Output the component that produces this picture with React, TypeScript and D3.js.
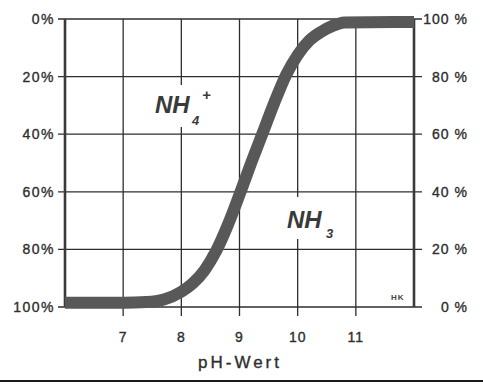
import React from "react";
import * as d3 from "d3";

const phTicks = [7, 8, 9, 10, 11];
const leftTicks = [0, 20, 40, 60, 80, 100];
const leftLabels = ["0%", "20%", "40%", "60%", "80%", "100%"];
const rightLabels = ["100 %", "80 %", "60 %", "40 %", "20 %", "0 %"];
const curvePh = [6.0, 7.0, 7.4, 7.7, 8.0, 8.2, 8.4, 8.6, 8.8, 9.0, 9.2, 9.4, 9.6, 9.8, 10.0, 10.2, 10.4, 10.6, 10.8, 12.0];
const curveNh3 = [1.5, 1.5, 1.7, 2.6, 5.3, 8.3, 12.8, 19.5, 28.5, 39, 50, 60.5, 71, 80.5, 87.5, 92.5, 95.5, 97.6, 98.8, 99];

const W = 483;
const H = 386;
const FONT = "'Liberation Sans', Arial, Helvetica, sans-serif";

export default function App() {
  const x = d3.scaleLinear().domain([6, 12]).range([65, 414]);
  const yLeft = d3.scaleLinear().domain([0, 100]).range([19, 307]);
  const yRight = d3.scaleLinear().domain([0, 100]).range([307, 19]);
  const pts: [number, number][] = curvePh.map((p, i) => [p, curveNh3[i]]);
  const line = d3
    .line<[number, number]>()
    .x((d) => x(d[0]))
    .y((d) => yRight(d[1]))
    .curve(d3.curveMonotoneX);
  const gridColor = "#2e2e2e";
  const textColor = "#2e2e2e";
  const textStroke = { stroke: textColor, strokeWidth: 0.35 };
  return (
    <svg
      width={W}
      height={H}
      style={{ position: "absolute", left: 0, top: 0, background: "#fff" }}
      fontFamily={FONT}
    >
      <rect x={0} y={0} width={W} height={H} fill="#fff" />
      {leftTicks.map((t) => (
        <line key={"h" + t} x1={58} x2={422} y1={yLeft(t)} y2={yLeft(t)} stroke={gridColor} strokeWidth={1.3} />
      ))}
      {phTicks.map((p) => (
        <line key={"v" + p} x1={x(p)} x2={x(p)} y1={yLeft(0)} y2={316} stroke={gridColor} strokeWidth={1.3} />
      ))}
      <line x1={x(6)} x2={x(6)} y1={yLeft(0)} y2={yLeft(100)} stroke="#3a3a3a" strokeWidth={2.6} />
      <line x1={x(12)} x2={x(12)} y1={yLeft(0)} y2={yLeft(100)} stroke="#3a3a3a" strokeWidth={2.6} />
      <rect x={148} y={85} width={68} height={42} fill="#fff" />
      <rect x={280} y={197} width={62} height={42} fill="#fff" />
      <path d={line(pts) || ""} fill="none" stroke="#585858" strokeWidth={12} />
      <g fill="#3a3a3a" fontWeight="bold" fontStyle="italic">
        <text x={155} y={113} fontSize={24}>NH</text>
        <text x={192} y={125} fontSize={13}>4</text>
        <text x={202} y={100} fontSize={15}>+</text>
        <text x={287} y={228} fontSize={24}>NH</text>
        <text x={326} y={238} fontSize={13}>3</text>
      </g>
      <text x={391} y={300} fontSize={8} fill="#444" fontWeight="bold" letterSpacing={1}>HK</text>
      {leftTicks.map((t, i) => (
        <text key={"l" + t} x={55} y={yLeft(t)} dy="0.36em" textAnchor="end" fontSize={14} fill={textColor} {...textStroke} letterSpacing={1.5}>
          {leftLabels[i]}
        </text>
      ))}
      {leftTicks.map((t, i) => (
        <text key={"r" + t} x={468} y={yLeft(t)} dy="0.36em" textAnchor="end" fontSize={14} fill={textColor} {...textStroke} letterSpacing={1}>
          {rightLabels[i]}
        </text>
      ))}
      {phTicks.map((p) => (
        <text key={"x" + p} x={x(p)} y={342} textAnchor="middle" fontSize={14} fill={textColor} {...textStroke} letterSpacing={1}>
          {p}
        </text>
      ))}
      <text x={240} y={368} textAnchor="middle" fontSize={17} fill={textColor} {...textStroke} letterSpacing={3}>
        pH-Wert
      </text>
      <line x1={0} x2={W} y1={381} y2={381} stroke="#1a1a1a" strokeWidth={2} />
    </svg>
  );
}
